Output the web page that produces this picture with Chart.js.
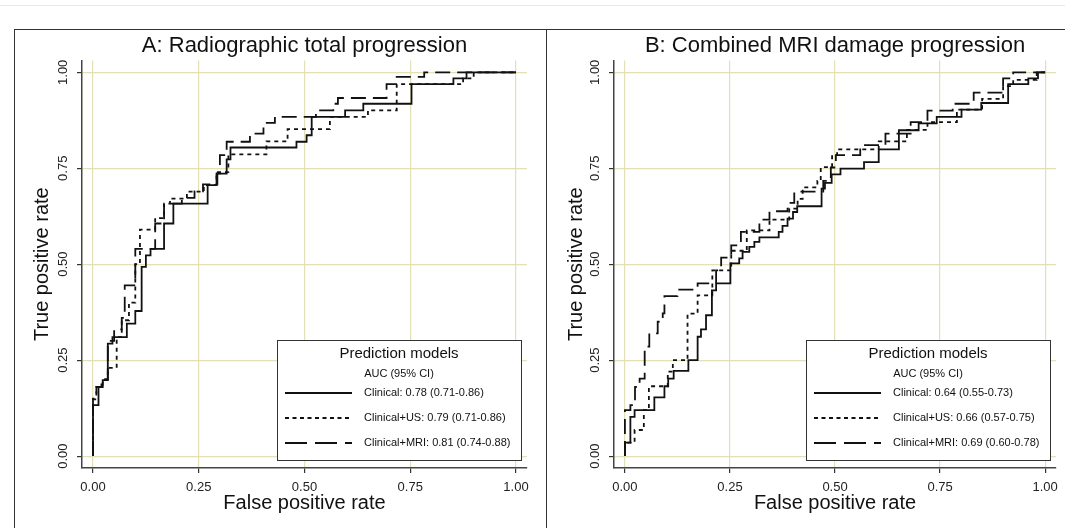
<!DOCTYPE html>
<html>
<head>
<meta charset="utf-8">
<script src="https://cdn.jsdelivr.net/npm/chart.js@4.4.1/dist/chart.umd.min.js"></script>
<style>
  body { margin: 0; background: #fff; width: 1065px; height: 528px; overflow: hidden; position: relative; }
  #topline { position: absolute; left: 0; top: 5px; width: 1065px; height: 1px; background: #e6eaec; }
  #frame { position: absolute; left: 14px; top: 29px; width: 1060px; height: 510px; border-left: 1px solid #333; border-top: 1px solid #333; }
  #boxA { position: absolute; left: 15px; top: 30px; width: 531px; height: 498px; }
  #boxB { position: absolute; left: 546px; top: 30px; width: 518px; height: 498px; border-left: 1px solid #333; }
</style>
</head>
<body>
<div id="topline"></div>
<div id="frame"></div>
<div id="boxA"><canvas id="chartA" width="531" height="498"></canvas></div>
<div id="boxB"><canvas id="chartB" width="518" height="498"></canvas></div>
<script>
// axis ticks
const tickValues = [0, 0.25, 0.5, 0.75, 1];

// Panel A: Radiographic total progression (step corners: fpr, tpr)
const aClinicalFpr = [0, 0.013, 0.023, 0.035, 0.046, 0.08, 0.10, 0.115, 0.125, 0.136, 0.168, 0.19, 0.271, 0.292, 0.316, 0.325, 0.481, 0.505, 0.517, 0.596, 0.639, 0.753, 0.852, 0.883, 1];
const aClinicalTpr = [0, 0.133, 0.18, 0.198, 0.293, 0.31, 0.345, 0.378, 0.493, 0.523, 0.54, 0.606, 0.658, 0.706, 0.736, 0.773, 0.804, 0.819, 0.836, 0.884, 0.901, 0.918, 0.969, 0.984, 1];
const aUsFpr = [0, 0.008, 0.023, 0.035, 0.056, 0.068, 0.085, 0.10, 0.111, 0.147, 0.168, 0.182, 0.222, 0.262, 0.292, 0.32, 0.41, 0.46, 0.56, 0.65, 0.718, 0.875, 0.90, 1];
const aUsTpr = [0, 0.148, 0.18, 0.20, 0.23, 0.31, 0.354, 0.40, 0.50, 0.59, 0.62, 0.658, 0.671, 0.689, 0.706, 0.74, 0.786, 0.82, 0.852, 0.884, 0.901, 0.969, 0.984, 1];
const aMriFpr = [0, 0.008, 0.02, 0.035, 0.05, 0.068, 0.075, 0.10, 0.147, 0.168, 0.21, 0.24, 0.26, 0.294, 0.30, 0.316, 0.371, 0.403, 0.43, 0.527, 0.568, 0.579, 0.694, 0.714, 0.783, 1];
const aMriTpr = [0, 0.15, 0.18, 0.20, 0.30, 0.33, 0.36, 0.445, 0.54, 0.606, 0.658, 0.673, 0.69, 0.708, 0.737, 0.784, 0.819, 0.84, 0.868, 0.884, 0.901, 0.918, 0.933, 0.969, 0.988, 1];

// Panel B: Combined MRI damage progression
const bClinicalFpr = [0, 0.013, 0.023, 0.07, 0.094, 0.103, 0.116, 0.151, 0.173, 0.181, 0.193, 0.207, 0.217, 0.251, 0.272, 0.28, 0.296, 0.308, 0.32, 0.366, 0.375, 0.387, 0.40, 0.41, 0.468, 0.476, 0.492, 0.513, 0.569, 0.604, 0.652, 0.699, 0.742, 0.801, 0.848, 0.912, 0.96, 0.983, 1];
const bClinicalTpr = [0, 0.035, 0.102, 0.12, 0.153, 0.182, 0.202, 0.222, 0.25, 0.311, 0.33, 0.367, 0.432, 0.45, 0.502, 0.515, 0.532, 0.545, 0.558, 0.57, 0.584, 0.60, 0.619, 0.636, 0.651, 0.697, 0.712, 0.734, 0.749, 0.766, 0.799, 0.849, 0.867, 0.884, 0.903, 0.92, 0.969, 0.984, 1];
const bUsFpr = [0, 0.023, 0.045, 0.057, 0.102, 0.114, 0.149, 0.173, 0.208, 0.253, 0.29, 0.344, 0.391, 0.411, 0.423, 0.458, 0.466, 0.493, 0.505, 0.604, 0.671, 0.72, 0.79, 0.85, 0.90, 0.924, 0.98, 1];
const bUsTpr = [0, 0.035, 0.068, 0.12, 0.182, 0.22, 0.25, 0.371, 0.419, 0.484, 0.535, 0.588, 0.616, 0.645, 0.67, 0.70, 0.717, 0.753, 0.784, 0.799, 0.82, 0.85, 0.87, 0.903, 0.931, 0.964, 0.98, 1];
const bMriFpr = [0, 0.013, 0.024, 0.035, 0.047, 0.058, 0.078, 0.09, 0.094, 0.125, 0.173, 0.217, 0.229, 0.253, 0.276, 0.32, 0.344, 0.387, 0.403, 0.472, 0.49, 0.502, 0.56, 0.62, 0.68, 0.72, 0.78, 0.83, 0.90, 0.924, 1];
const bMriTpr = [0, 0.12, 0.133, 0.18, 0.202, 0.285, 0.32, 0.35, 0.372, 0.417, 0.434, 0.45, 0.484, 0.517, 0.549, 0.584, 0.616, 0.638, 0.66, 0.689, 0.717, 0.752, 0.784, 0.81, 0.84, 0.87, 0.90, 0.918, 0.947, 0.984, 1];

// legend texts
const legendTitle = 'Prediction models';
const legendSub = 'AUC (95% CI)';
const aLegendLabels = ['Clinical: 0.78 (0.71-0.86)', 'Clinical+US: 0.79 (0.71-0.86)', 'Clinical+MRI: 0.81 (0.74-0.88)'];
const bLegendLabels = ['Clinical: 0.64 (0.55-0.73)', 'Clinical+US: 0.66 (0.57-0.75)', 'Clinical+MRI: 0.69 (0.60-0.78)'];

const FONT = '"Liberation Sans", Arial, sans-serif';
const plotDashes = [[], [4, 4], [15, 7]];
const legendDashes = [[], [4, 3.5], [22, 8]];

function points(xs, ys) {
    return xs.map((x, i) => ({ x: x, y: ys[i] }));
}

const rocLegend = {
    id: 'rocLegend',
    afterDraw(chart, args, opts) {
        const ctx = chart.ctx;
        const area = chart.chartArea;
        const w = 244, h = 120;
        const left = Math.round(area.right - 6 - w);
        const top = Math.round(area.bottom - 8 - h);
        ctx.save();
        ctx.fillStyle = '#fff';
        ctx.fillRect(left, top, w, h);
        ctx.strokeStyle = '#333';
        ctx.lineWidth = 1;
        ctx.strokeRect(left + 0.5, top + 0.5, w, h);
        ctx.fillStyle = '#111';
        ctx.textAlign = 'center';
        ctx.textBaseline = 'middle';
        ctx.font = '15px ' + FONT;
        ctx.fillText(legendTitle, left + w / 2, top + 14);
        ctx.font = '11px ' + FONT;
        ctx.fillText(legendSub, left + w / 2, top + 34);
        opts.labels.forEach(function (txt, i) {
            const y = top + 53 + i * 25;
            ctx.strokeStyle = '#111';
            ctx.lineWidth = 1.8;
            ctx.setLineDash(legendDashes[i]);
            ctx.beginPath();
            ctx.moveTo(left + 8, y);
            ctx.lineTo(left + 75, y);
            ctx.stroke();
            ctx.setLineDash([]);
            ctx.textAlign = 'left';
            ctx.font = '11px ' + FONT;
            ctx.fillText(txt, left + 87, y);
        });
        ctx.restore();
    }
};

function drawPanel(id, title, series, labels, rightPad, yTitlePad) {
    const ctx = document.getElementById(id).getContext('2d');
    new Chart(ctx, {
        type: 'line',
        data: {
            datasets: series.map(function (s, i) {
                return {
                    label: labels[i],
                    data: s,
                    borderColor: '#111',
                    borderWidth: 1.8,
                    borderDash: plotDashes[i],
                    pointRadius: 0,
                    stepped: 'after',
                    fill: false
                };
            })
        },
        options: {
            responsive: false,
            animation: false,
            layout: { padding: { left: 0, right: rightPad, top: 0, bottom: 0 } },
            plugins: {
                legend: { display: false },
                tooltip: { enabled: false },
                title: {
                    display: true,
                    text: title,
                    fullSize: false,
                    color: '#111',
                    font: { family: FONT, size: 22, weight: 'normal' },
                    padding: { top: 3, bottom: 1 }
                },
                rocLegend: { labels: labels }
            },
            scales: {
                x: {
                    type: 'linear',
                    min: -0.026,
                    max: 1.026,
                    afterBuildTicks: function (scale) { scale.ticks = tickValues.map(v => ({ value: v })); },
                    afterFit: function (scale) { scale.height = 60; },
                    ticks: {
                        color: '#222',
                        padding: 7,
                        maxRotation: 0,
                        font: { family: FONT, size: 13 },
                        callback: v => v.toFixed(2)
                    },
                    grid: { color: '#e4e0b6', lineWidth: 1.2, tickColor: '#333', tickLength: 5 },
                    border: { display: true, color: '#444', width: 1.5 },
                    title: {
                        display: true,
                        text: 'False positive rate',
                        color: '#111',
                        font: { family: FONT, size: 20 },
                        padding: { top: 0, bottom: 13 }
                    }
                },
                y: {
                    type: 'linear',
                    min: -0.031,
                    max: 1.031,
                    afterBuildTicks: function (scale) { scale.ticks = tickValues.map(v => ({ value: v })); },
                    afterFit: function (scale) { scale.width = 67; },
                    ticks: {
                        color: '#222',
                        padding: 1,
                        minRotation: 90,
                        maxRotation: 90,
                        crossAlign: 'center',
                        font: { family: FONT, size: 13 },
                        callback: v => v.toFixed(2)
                    },
                    grid: { color: '#e4e0b6', lineWidth: 1.2, tickColor: '#333', tickLength: 5 },
                    border: { display: true, color: '#444', width: 1.5 },
                    title: {
                        display: true,
                        text: 'True positive rate',
                        color: '#111',
                        font: { family: FONT, size: 20 },
                        padding: { top: yTitlePad, bottom: 0 }
                    }
                }
            }
        },
        plugins: [rocLegend]
    });
}

drawPanel('chartA', 'A: Radiographic total progression',
    [points(aClinicalFpr, aClinicalTpr), points(aUsFpr, aUsTpr), points(aMriFpr, aMriTpr)],
    aLegendLabels, 19, 15);
drawPanel('chartB', 'B: Combined MRI damage progression',
    [points(bClinicalFpr, bClinicalTpr), points(bUsFpr, bUsTpr), points(bMriFpr, bMriTpr)],
    bLegendLabels, 7, 17);
</script>
</body>
</html>
